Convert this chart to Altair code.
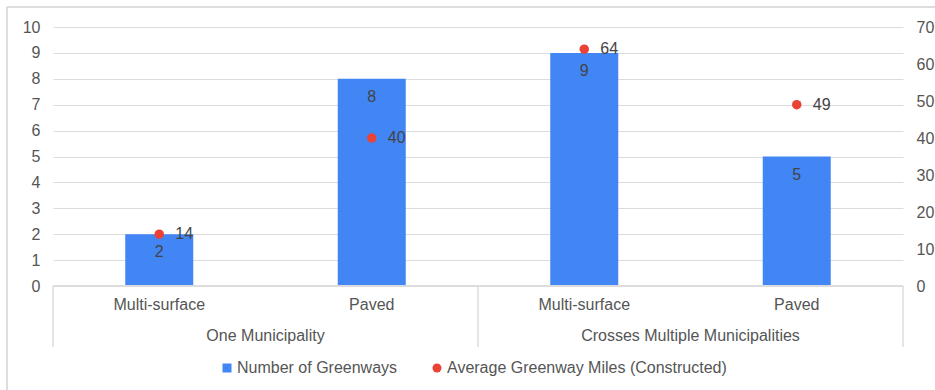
import altair as alt
import pandas as pd

# Greenway counts and average constructed miles, by municipal scope and surface type
groups = ["One Municipality", "One Municipality",
          "Crosses Multiple Municipalities", "Crosses Multiple Municipalities"]
surfaces = ["Multi-surface", "Paved", "Multi-surface", "Paved"]
greenway_counts = [2, 8, 9, 5]
avg_miles = [14, 40, 64, 49]

group_names = ["One Municipality", "Crosses Multiple Municipalities"]
left_ticks = list(range(0, 11))
right_ticks = list(range(0, 71, 10))

SERIES_COUNT = "Number of Greenways"
SERIES_MILES = "Average Greenway Miles (Constructed)"
BLUE = "#4285F4"
RED = "#EA4335"
FONT = "Liberation Sans"
TEXT = "#444444"
AXIS_TEXT = "#555555"
LINE = "#dcdcdc"

W, H = 850, 259

df = pd.DataFrame({
    "group": groups,
    "surface": surfaces,
    "pos": [i + 0.5 for i in range(len(surfaces))],
    "count": greenway_counts,
    "miles": avg_miles,
    "series": SERIES_MILES,
})
df_groups = pd.DataFrame({
    "group": group_names,
    "pos": [1.0, 3.0],
})
df_sep = pd.DataFrame({"pos": [0.0, 2.0, 4.0]})

xs = alt.Scale(domain=[0, 4], nice=False, zero=False, padding=0)
x = alt.X("pos:Q", scale=xs, axis=None)

y_left = alt.Y(
    "count:Q",
    scale=alt.Scale(domain=[0, 10], nice=False),
    axis=alt.Axis(values=left_ticks, title=None, domain=False, ticks=False,
                  grid=True, gridColor=LINE, labelPadding=13,
                  labelFont=FONT, labelFontSize=16, labelColor=AXIS_TEXT),
)
y_right = alt.Y(
    "miles:Q",
    scale=alt.Scale(domain=[0, 70], nice=False),
    axis=alt.Axis(values=right_ticks, orient="right", title=None, domain=False,
                  ticks=False, grid=False, labelPadding=13,
                  labelFont=FONT, labelFontSize=16, labelColor=AXIS_TEXT),
)

legend = alt.Legend(
    title=None, orient="none", direction="horizontal",
    legendX=166, legendY=333, symbolSize=81, symbolStrokeWidth=0,
    labelFont=FONT, labelFontSize=16, labelColor=AXIS_TEXT, labelLimit=500,
    labelOffset=2, columnPadding=31,
)
series_domain = [SERIES_COUNT, SERIES_MILES]

base = alt.Chart(df)

bars = base.mark_bar(color=BLUE, size=68).encode(x=x, y=y_left)
bar_labels = base.mark_text(
    font=FONT, fontSize=16, color=TEXT, baseline="middle", dy=18
).encode(x=x, y=y_left, text="count:Q")

left_layer = alt.layer(bars, bar_labels)

points = base.mark_point(filled=True, size=90, opacity=1).encode(
    x=x,
    y=y_right,
    color=alt.Color("series:N",
                    scale=alt.Scale(domain=series_domain, range=[BLUE, RED]),
                    legend=legend),
    shape=alt.Shape("series:N",
                    scale=alt.Scale(domain=series_domain, range=["square", "circle"]),
                    legend=legend),
)
point_labels = base.mark_text(
    font=FONT, fontSize=16, color=TEXT, align="left", baseline="middle", dx=16
).encode(x=x, y=y_right, text="miles:Q")

right_layer = alt.layer(points, point_labels)

# Two-level category axis drawn beneath the plot
surface_labels = base.mark_text(
    font=FONT, fontSize=16, color=AXIS_TEXT, baseline="middle"
).encode(x=x, y=alt.value(H + 19), text="surface:N")

group_labels = alt.Chart(df_groups).mark_text(
    font=FONT, fontSize=16, color=AXIS_TEXT, baseline="middle"
).encode(x=x, y=alt.value(H + 50), text="group:N")

separators = alt.Chart(df_sep).mark_rule(color=LINE, strokeWidth=1.5).encode(
    x=x, y=alt.value(H), y2=alt.value(H + 61)
)

baseline = alt.Chart(df_sep).mark_rule(color=LINE, strokeWidth=1.5).encode(
    x=alt.value(0), x2=alt.value(W), y=alt.value(H)
)

frame = alt.Chart(df_sep).mark_rect(
    fill="transparent", stroke="#d9d9d9", strokeWidth=1
).encode(x=alt.value(-46), x2=alt.value(W + 60), y=alt.value(-20), y2=alt.value(H + 140))

chart = alt.layer(
    frame, left_layer, right_layer, separators, baseline, surface_labels, group_labels
).resolve_scale(y="independent").properties(
    width=W,
    height=H,
    padding={"left": 53, "top": 27, "right": 32, "bottom": 104},
    autosize=alt.AutoSizeParams(type="none"),
    background="white",
).configure_view(stroke=None)

chart.save("out.html", embed_options={"renderer": "svg", "actions": False})
